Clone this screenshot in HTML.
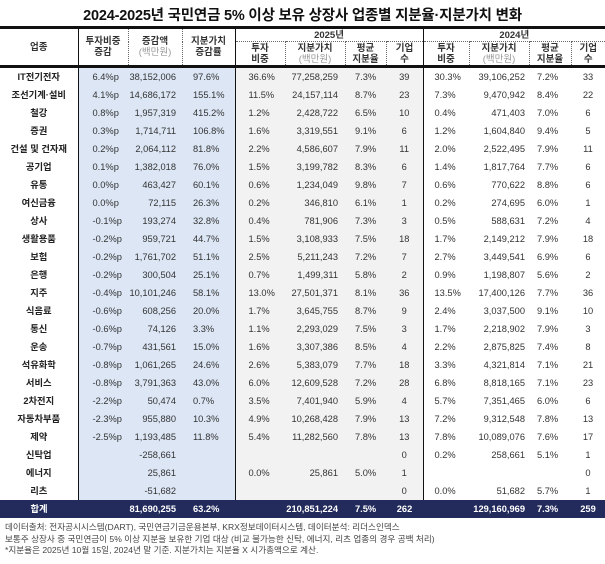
<!DOCTYPE html>
<html><head><meta charset="utf-8"><style>
*{margin:0;padding:0;box-sizing:border-box}
body{width:605px;height:564px;background:#fff;font-family:"Liberation Sans","Noto Sans CJK KR",sans-serif;color:#333;position:relative;overflow:hidden}
.title{position:absolute;top:4px;left:0;width:605px;text-align:center;font-size:14.5px;font-weight:bold;color:#111;letter-spacing:-0.2px}
table{position:absolute;top:26px;left:0;width:605px;border-collapse:collapse;table-layout:fixed}
td{font-size:9.3px;height:18px;white-space:nowrap;overflow:visible;padding:0;line-height:18px}
thead td{font-weight:bold;color:#333;text-align:center;line-height:11px;font-size:9.5px}
thead tr.h1 td{height:14px;border-top:3px solid #111}
thead tr.h2 td{height:25px;border-bottom:3px solid #111}
.sub{color:#999;font-weight:normal}
.dt{border-top:1px dotted #666}
.dl{border-left:1px dotted #666}
.sl{border-left:1px solid #111}
td.n{text-align:center;font-weight:bold;color:#222}
.b{background:#dce6f5}
.g{background:#f2f2f2}
.c2{padding-left:14px}.c3{text-align:right;padding-right:6px}.c4{padding-left:11px}
.c5{padding-left:13px}.c6{text-align:right;padding-right:7px}.c7{padding-left:10px}.c8{text-align:center}
.c9{padding-left:11px}.c10{text-align:right;padding-right:4px}.c11{padding-left:8px}.c12{text-align:center}
tr.tot td{background:#232b5c;color:#fff;font-weight:bold}
.foot{position:absolute;left:5px;top:522px;font-size:8.6px;color:#444;line-height:11.5px}
</style></head><body>
<div class="title">2024-2025년 국민연금 5% 이상 보유 상장사 업종별 지분율·지분가치 변화</div>
<table>
<colgroup><col style="width:78px"><col style="width:50px"><col style="width:54px"><col style="width:53px"><col style="width:50px"><col style="width:60px"><col style="width:41px"><col style="width:37px"><col style="width:46px"><col style="width:60px"><col style="width:42px"><col style="width:34px"></colgroup>
<thead>
<tr class="h1"><td rowspan="2" style="border-bottom:3px solid #111">업종</td><td rowspan="2" class="sl" style="border-bottom:3px solid #111">투자비중<br>증감</td><td rowspan="2" class="dl" style="border-bottom:3px solid #111">증감액<br><span class="sub">(백만원)</span></td><td rowspan="2" class="dl" style="border-bottom:3px solid #111">지분가치<br>증감률</td><td colspan="4" class="sl">2025년</td><td colspan="4" class="sl">2024년</td></tr>
<tr class="h2"><td class="sl dt">투자<br>비중</td><td class="dl dt">지분가치<br><span class="sub">(백만원)</span></td><td class="dl dt">평균<br>지분율</td><td class="dl dt">기업<br>수</td><td class="sl dt">투자<br>비중</td><td class="dl dt">지분가치<br><span class="sub">(백만원)</span></td><td class="dl dt">평균<br>지분율</td><td class="dl dt">기업<br>수</td></tr>
</thead>
<tbody>
<tr><td class="n">IT전기전자</td><td class="b c2 sl">6.4%p</td><td class="b c3">38,152,006</td><td class="b c4">97.6%</td><td class="g c5 sl">36.6%</td><td class="g c6">77,258,259</td><td class="g c7">7.3%</td><td class="g c8">39</td><td class="c9 sl">30.3%</td><td class="c10">39,106,252</td><td class="c11">7.2%</td><td class="c12">33</td></tr>
<tr><td class="n">조선기계·설비</td><td class="b c2 sl">4.1%p</td><td class="b c3">14,686,172</td><td class="b c4">155.1%</td><td class="g c5 sl">11.5%</td><td class="g c6">24,157,114</td><td class="g c7">8.7%</td><td class="g c8">23</td><td class="c9 sl">7.3%</td><td class="c10">9,470,942</td><td class="c11">8.4%</td><td class="c12">22</td></tr>
<tr><td class="n">철강</td><td class="b c2 sl">0.8%p</td><td class="b c3">1,957,319</td><td class="b c4">415.2%</td><td class="g c5 sl">1.2%</td><td class="g c6">2,428,722</td><td class="g c7">6.5%</td><td class="g c8">10</td><td class="c9 sl">0.4%</td><td class="c10">471,403</td><td class="c11">7.0%</td><td class="c12">6</td></tr>
<tr><td class="n">증권</td><td class="b c2 sl">0.3%p</td><td class="b c3">1,714,711</td><td class="b c4">106.8%</td><td class="g c5 sl">1.6%</td><td class="g c6">3,319,551</td><td class="g c7">9.1%</td><td class="g c8">6</td><td class="c9 sl">1.2%</td><td class="c10">1,604,840</td><td class="c11">9.4%</td><td class="c12">5</td></tr>
<tr><td class="n">건설 및 건자재</td><td class="b c2 sl">0.2%p</td><td class="b c3">2,064,112</td><td class="b c4">81.8%</td><td class="g c5 sl">2.2%</td><td class="g c6">4,586,607</td><td class="g c7">7.9%</td><td class="g c8">11</td><td class="c9 sl">2.0%</td><td class="c10">2,522,495</td><td class="c11">7.9%</td><td class="c12">11</td></tr>
<tr><td class="n">공기업</td><td class="b c2 sl">0.1%p</td><td class="b c3">1,382,018</td><td class="b c4">76.0%</td><td class="g c5 sl">1.5%</td><td class="g c6">3,199,782</td><td class="g c7">8.3%</td><td class="g c8">6</td><td class="c9 sl">1.4%</td><td class="c10">1,817,764</td><td class="c11">7.7%</td><td class="c12">6</td></tr>
<tr><td class="n">유통</td><td class="b c2 sl">0.0%p</td><td class="b c3">463,427</td><td class="b c4">60.1%</td><td class="g c5 sl">0.6%</td><td class="g c6">1,234,049</td><td class="g c7">9.8%</td><td class="g c8">7</td><td class="c9 sl">0.6%</td><td class="c10">770,622</td><td class="c11">8.8%</td><td class="c12">6</td></tr>
<tr><td class="n">여신금융</td><td class="b c2 sl">0.0%p</td><td class="b c3">72,115</td><td class="b c4">26.3%</td><td class="g c5 sl">0.2%</td><td class="g c6">346,810</td><td class="g c7">6.1%</td><td class="g c8">1</td><td class="c9 sl">0.2%</td><td class="c10">274,695</td><td class="c11">6.0%</td><td class="c12">1</td></tr>
<tr><td class="n">상사</td><td class="b c2 sl">-0.1%p</td><td class="b c3">193,274</td><td class="b c4">32.8%</td><td class="g c5 sl">0.4%</td><td class="g c6">781,906</td><td class="g c7">7.3%</td><td class="g c8">3</td><td class="c9 sl">0.5%</td><td class="c10">588,631</td><td class="c11">7.2%</td><td class="c12">4</td></tr>
<tr><td class="n">생활용품</td><td class="b c2 sl">-0.2%p</td><td class="b c3">959,721</td><td class="b c4">44.7%</td><td class="g c5 sl">1.5%</td><td class="g c6">3,108,933</td><td class="g c7">7.5%</td><td class="g c8">18</td><td class="c9 sl">1.7%</td><td class="c10">2,149,212</td><td class="c11">7.9%</td><td class="c12">18</td></tr>
<tr><td class="n">보험</td><td class="b c2 sl">-0.2%p</td><td class="b c3">1,761,702</td><td class="b c4">51.1%</td><td class="g c5 sl">2.5%</td><td class="g c6">5,211,243</td><td class="g c7">7.2%</td><td class="g c8">7</td><td class="c9 sl">2.7%</td><td class="c10">3,449,541</td><td class="c11">6.9%</td><td class="c12">6</td></tr>
<tr><td class="n">은행</td><td class="b c2 sl">-0.2%p</td><td class="b c3">300,504</td><td class="b c4">25.1%</td><td class="g c5 sl">0.7%</td><td class="g c6">1,499,311</td><td class="g c7">5.8%</td><td class="g c8">2</td><td class="c9 sl">0.9%</td><td class="c10">1,198,807</td><td class="c11">5.6%</td><td class="c12">2</td></tr>
<tr><td class="n">지주</td><td class="b c2 sl">-0.4%p</td><td class="b c3">10,101,246</td><td class="b c4">58.1%</td><td class="g c5 sl">13.0%</td><td class="g c6">27,501,371</td><td class="g c7">8.1%</td><td class="g c8">36</td><td class="c9 sl">13.5%</td><td class="c10">17,400,126</td><td class="c11">7.7%</td><td class="c12">36</td></tr>
<tr><td class="n">식음료</td><td class="b c2 sl">-0.6%p</td><td class="b c3">608,256</td><td class="b c4">20.0%</td><td class="g c5 sl">1.7%</td><td class="g c6">3,645,755</td><td class="g c7">8.7%</td><td class="g c8">9</td><td class="c9 sl">2.4%</td><td class="c10">3,037,500</td><td class="c11">9.1%</td><td class="c12">10</td></tr>
<tr><td class="n">통신</td><td class="b c2 sl">-0.6%p</td><td class="b c3">74,126</td><td class="b c4">3.3%</td><td class="g c5 sl">1.1%</td><td class="g c6">2,293,029</td><td class="g c7">7.5%</td><td class="g c8">3</td><td class="c9 sl">1.7%</td><td class="c10">2,218,902</td><td class="c11">7.9%</td><td class="c12">3</td></tr>
<tr><td class="n">운송</td><td class="b c2 sl">-0.7%p</td><td class="b c3">431,561</td><td class="b c4">15.0%</td><td class="g c5 sl">1.6%</td><td class="g c6">3,307,386</td><td class="g c7">8.5%</td><td class="g c8">4</td><td class="c9 sl">2.2%</td><td class="c10">2,875,825</td><td class="c11">7.4%</td><td class="c12">8</td></tr>
<tr><td class="n">석유화학</td><td class="b c2 sl">-0.8%p</td><td class="b c3">1,061,265</td><td class="b c4">24.6%</td><td class="g c5 sl">2.6%</td><td class="g c6">5,383,079</td><td class="g c7">7.7%</td><td class="g c8">18</td><td class="c9 sl">3.3%</td><td class="c10">4,321,814</td><td class="c11">7.1%</td><td class="c12">21</td></tr>
<tr><td class="n">서비스</td><td class="b c2 sl">-0.8%p</td><td class="b c3">3,791,363</td><td class="b c4">43.0%</td><td class="g c5 sl">6.0%</td><td class="g c6">12,609,528</td><td class="g c7">7.2%</td><td class="g c8">28</td><td class="c9 sl">6.8%</td><td class="c10">8,818,165</td><td class="c11">7.1%</td><td class="c12">23</td></tr>
<tr><td class="n">2차전지</td><td class="b c2 sl">-2.2%p</td><td class="b c3">50,474</td><td class="b c4">0.7%</td><td class="g c5 sl">3.5%</td><td class="g c6">7,401,940</td><td class="g c7">5.9%</td><td class="g c8">4</td><td class="c9 sl">5.7%</td><td class="c10">7,351,465</td><td class="c11">6.0%</td><td class="c12">6</td></tr>
<tr><td class="n">자동차부품</td><td class="b c2 sl">-2.3%p</td><td class="b c3">955,880</td><td class="b c4">10.3%</td><td class="g c5 sl">4.9%</td><td class="g c6">10,268,428</td><td class="g c7">7.9%</td><td class="g c8">13</td><td class="c9 sl">7.2%</td><td class="c10">9,312,548</td><td class="c11">7.8%</td><td class="c12">13</td></tr>
<tr><td class="n">제약</td><td class="b c2 sl">-2.5%p</td><td class="b c3">1,193,485</td><td class="b c4">11.8%</td><td class="g c5 sl">5.4%</td><td class="g c6">11,282,560</td><td class="g c7">7.8%</td><td class="g c8">13</td><td class="c9 sl">7.8%</td><td class="c10">10,089,076</td><td class="c11">7.6%</td><td class="c12">17</td></tr>
<tr><td class="n">신탁업</td><td class="b c2 sl"></td><td class="b c3">-258,661</td><td class="b c4"></td><td class="g c5 sl"></td><td class="g c6"></td><td class="g c7"></td><td class="g c8">0</td><td class="c9 sl">0.2%</td><td class="c10">258,661</td><td class="c11">5.1%</td><td class="c12">1</td></tr>
<tr><td class="n">에너지</td><td class="b c2 sl"></td><td class="b c3">25,861</td><td class="b c4"></td><td class="g c5 sl">0.0%</td><td class="g c6">25,861</td><td class="g c7">5.0%</td><td class="g c8">1</td><td class="c9 sl"></td><td class="c10"></td><td class="c11"></td><td class="c12">0</td></tr>
<tr><td class="n">리츠</td><td class="b c2 sl"></td><td class="b c3">-51,682</td><td class="b c4"></td><td class="g c5 sl"></td><td class="g c6"></td><td class="g c7"></td><td class="g c8">0</td><td class="c9 sl">0.0%</td><td class="c10">51,682</td><td class="c11">5.7%</td><td class="c12">1</td></tr>
<tr class="tot"><td style="text-align:center">합계</td><td></td><td class="c3">81,690,255</td><td class="c4">63.2%</td><td></td><td class="c6">210,851,224</td><td class="c7">7.5%</td><td class="c8">262</td><td></td><td class="c10">129,160,969</td><td class="c11">7.3%</td><td class="c12">259</td></tr>
</tbody></table>
<div class="foot">데이터출처: 전자공시시스템(DART), 국민연금기금운용본부, KRX정보데이터시스템, 데이터분석: 리더스인덱스<br>보통주 상장사 중 국민연금이 5% 이상 지분을 보유한 기업 대상 (비교 불가능한 신탁, 에너지, 리츠 업종의 경우 공백 처리)<br>*지분율은 2025년 10월 15일, 2024년 말 기준. 지분가치는 지분율 X 시가총액으로 계산.</div>
</body></html>
